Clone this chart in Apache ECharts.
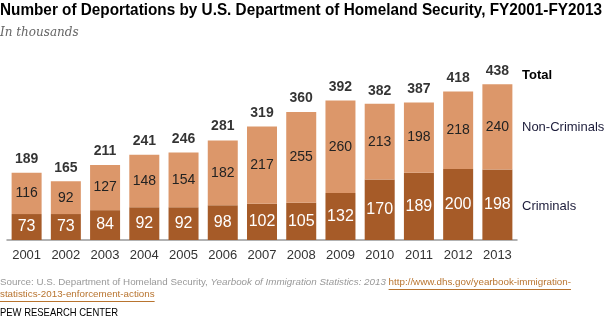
<!DOCTYPE html>
<html><head><meta charset="utf-8">
<script src="https://cdn.jsdelivr.net/npm/echarts@6/dist/echarts.min.js"></script>
<style>html,body{margin:0;padding:0;background:#fff}#c{width:605px;height:322px}</style>
</head><body><div id="c"></div>
<script>
const years = ['2001','2002','2003','2004','2005','2006','2007','2008','2009','2010','2011','2012','2013'];
const criminals = [73,73,84,92,92,98,102,105,132,170,189,200,198];
const nonCriminals = [116,92,127,148,154,182,217,255,260,213,198,218,240];
const totals = [189,165,211,241,246,281,319,360,392,382,387,418,438];

const chart = echarts.init(document.getElementById('c'));
const F = 'Liberation Sans, Arial, sans-serif';
const SF = 9.8;
const title = 'Number of Deportations by U.S. Department of Homeland Security, FY2001-FY2013';
const srcA = 'Source: U.S. Department of Homeland Security, ';
const srcI = 'Yearbook of Immigration Statistics: 2013 ';
const srcU = 'http://www.dhs.gov/yearbook-immigration-';
const srcU2 = 'statistics-2013-enforcement-actions';
const ctx = document.createElement('canvas').getContext('2d');
ctx.font = SF + 'px ' + F; const wA = ctx.measureText(srcA).width;
const wU = ctx.measureText(srcU).width; const wU2 = ctx.measureText(srcU2).width;
ctx.font = 'italic ' + SF + 'px ' + F; const wI = ctx.measureText(srcI).width;
ctx.font = 'bold 17px ' + F; const wT = ctx.measureText(title).width;
const linkX = wA + wI;
chart.setOption({
  animation: false,
  grid: {left: 7, right: 88, top: 80, bottom: 82},
  xAxis: {
    type: 'category', data: years,
    axisLine: {lineStyle: {color: '#999', width: 1.5}},
    axisTick: {show: false},
    axisLabel: {color: '#333', fontSize: 13, fontFamily: F, margin: 9}
  },
  yAxis: {type: 'value', min: 0, max: 450, show: false, splitLine: {show: false}},
  series: [
    {type: 'bar', stack: 's', data: criminals, barWidth: 30, itemStyle: {color: '#A65B28'},
     label: {show: true, position: 'inside', color: '#fff', fontSize: 16, fontFamily: F}},
    {type: 'bar', stack: 's', data: nonCriminals, barWidth: 30, itemStyle: {color: '#DC976A'},
     label: {show: true, position: 'inside', color: '#222', fontSize: 14, fontFamily: F}},
    {type: 'scatter', data: totals, symbolSize: 1, itemStyle: {color: 'rgba(0,0,0,0)'},
     label: {show: true, position: 'top', distance: 6, color: '#000', fontSize: 14, fontWeight: 'bold', fontFamily: F}}
  ],
  graphic: [
    {type: 'text', x: 0, y: 2, scaleX: 602 / wT, style: {text: title, fontSize: 17, fontWeight: 'bold', fontFamily: F, fill: '#000'}},
    {type: 'text', left: 0, top: 27, style: {text: 'In thousands', fontSize: 12, fontStyle: 'italic', fontFamily: 'DejaVu Serif, Liberation Serif, serif', fill: '#666'}},
    {type: 'text', left: 522, top: 69, style: {text: 'Total', fontSize: 13, fontWeight: 'bold', fontFamily: F, fill: '#000'}},
    {type: 'text', left: 522, top: 121, style: {text: 'Non-Criminals', fontSize: 13, fontFamily: F, fill: '#1c1c3a'}},
    {type: 'text', left: 522, top: 200, style: {text: 'Criminals', fontSize: 13, fontFamily: F, fill: '#1c1c3a'}},
    {type: 'text', x: 0, y: 277, style: {rich: {
        a: {fontSize: SF, fontFamily: F, fill: '#999'},
        i: {fontSize: SF, fontFamily: F, fontStyle: 'italic', fill: '#999'},
        u: {fontSize: SF, fontFamily: F, fill: '#b8742f'}
      }, text: '{a|' + srcA + '}{i|' + srcI + '}{u|' + srcU + '}'}},
    {type: 'line', shape: {x1: linkX, y1: 289.5, x2: linkX + wU, y2: 289.5}, style: {stroke: '#b8742f', lineWidth: 1}},
    {type: 'text', x: 0, y: 289, style: {text: srcU2, fontSize: SF, fontFamily: F, fill: '#b8742f'}},
    {type: 'line', shape: {x1: 0, y1: 301.5, x2: wU2, y2: 301.5}, style: {stroke: '#b8742f', lineWidth: 1}},
    {type: 'text', x: 0, y: 308, scaleX: 0.9, style: {text: 'PEW RESEARCH CENTER', fontSize: 10.5, fontFamily: F, fill: '#000'}}
  ]
});
</script></body></html>
